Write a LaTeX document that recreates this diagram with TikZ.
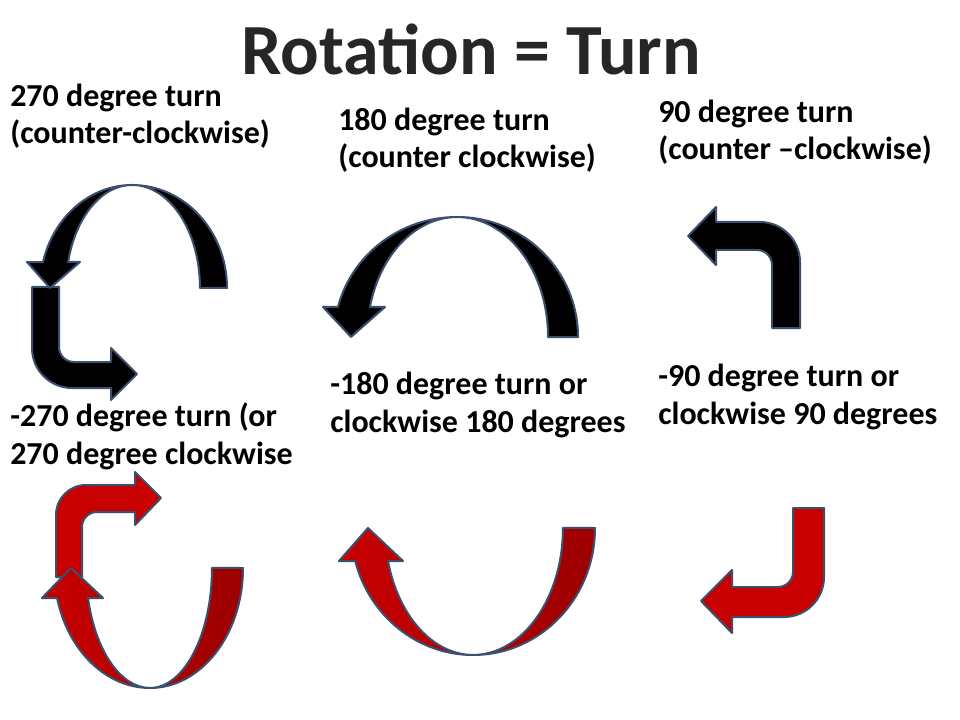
\documentclass[tikz,border=0pt]{standalone}
\usepackage{fontspec}
\setmainfont{Carlito}
\definecolor{edge}{HTML}{3B4F6E}
\definecolor{redA}{HTML}{C80000}
\definecolor{redB}{HTML}{9C0000}
\definecolor{titlegray}{HTML}{262626}
\newcommand{\outlinedtext}[1]{\special{pdf:content 2 Tr 1.4 w 0.78 G}#1\special{pdf:content 0 Tr}}
\begin{document}
\begin{tikzpicture}[x=0.75pt,y=-0.75pt,
  lbl/.style={anchor=base west,align=left,inner sep=0pt,font=\fontsize{24}{28}\selectfont\bfseries},
  blackarrow/.style={fill=black,draw=edge,line width=1.5pt,line join=round},
  redarrow/.style={fill=redA,draw=edge,line width=1.5pt,line join=round},
  redshade/.style={left color=redA,right color=redB,draw=edge,line width=1.5pt,line join=round}]
\useasboundingbox (0,0) rectangle (960,720);
\fill[white] (0,0) rectangle (960,720);

% title
\node[anchor=base,inner sep=0pt,text=titlegray,font=\fontsize{54}{58}\selectfont\bfseries] (title) at (471,75) {\outlinedtext{Rotation = Turn}};

% labels (anchored at the baseline of the last line)
\node[lbl] (l270) at (10,144) {270 degree turn\\(counter-clockwise)};
\node[lbl] (l180) at (338,168) {180 degree turn\\(counter clockwise)};
\node[lbl] (l90) at (658,160) {90 degree turn\\(counter –clockwise)};
\node[lbl] (m270) at (10,464) {-270 degree turn (or\\270 degree clockwise};
\node[lbl] (m180) at (330,432) {-180 degree turn or\\clockwise 180 degrees};
\node[lbl] (m90) at (658,424) {-90 degree turn or\\clockwise 90 degrees};

% black 270: L-shaped part
\draw[blackarrow] (32,287) -- (32,348) arc[start angle=180,end angle=90,radius=40]
  -- (111,388) -- (111,400) -- (137,374) -- (111,348) -- (111,362) -- (74,362)
  arc[start angle=90,end angle=180,radius=15] -- (59,287) -- cycle;
% black 270: arc part
\draw[blackarrow] (227,288) arc[start angle=0,end angle=-90,x radius=95,y radius=103]
  arc[start angle=270,end angle=194.6,x radius=92,y radius=103]
  -- (27,262) -- (50,288) -- (80,262) -- (68.1,262)
  arc[start angle=194.6,end angle=270,x radius=66,y radius=103]
  arc[start angle=-90,end angle=0,x radius=68,y radius=103] -- cycle;

% black 180
\draw[blackarrow] (578,337) arc[start angle=0,end angle=-90,x radius=121,y radius=120]
  arc[start angle=270,end angle=194.5,x radius=123,y radius=120]
  -- (323,307) -- (351,337) -- (385,307) -- (369.9,307)
  arc[start angle=194.5,end angle=270,x radius=90,y radius=120]
  arc[start angle=-90,end angle=0,x radius=91,y radius=120] -- cycle;

% black 90
\draw[blackarrow] (772,328) -- (772,265) arc[start angle=0,end angle=-90,radius=15]
  -- (716,250) -- (716,265) -- (688,236) -- (716,207) -- (716,222) -- (760,222)
  arc[start angle=-90,end angle=0,radius=40] -- (800,328) -- cycle;

% red 270: hook part
\draw[redarrow] (56,577) -- (56,515) arc[start angle=180,end angle=270,radius=30]
  -- (135,485) -- (135,472) -- (161,498) -- (135,525) -- (135,512) -- (97,512)
  arc[start angle=270,end angle=180,radius=15] -- (82,577) -- cycle;
% red 270: U part
\draw[redshade] (243,568) arc[start angle=0,end angle=90,x radius=93,y radius=120]
  arc[start angle=90,end angle=165.5,x radius=96,y radius=120]
  -- (42,598) -- (71,568) -- (103,598) -- (88,598)
  arc[start angle=165.5,end angle=90,x radius=64,y radius=120]
  arc[start angle=90,end angle=0,x radius=62,y radius=120] -- cycle;

% red 180
\draw[redshade] (595,528) arc[start angle=0,end angle=90,x radius=122,y radius=127]
  arc[start angle=90,end angle=164.9,x radius=122,y radius=127]
  -- (339,561) -- (368,528) -- (403,561) -- (388,561)
  arc[start angle=164.9,end angle=90,x radius=88,y radius=127]
  arc[start angle=90,end angle=0,x radius=90,y radius=127] -- cycle;

% red 90
\draw[redarrow] (793,508) -- (793,572) arc[start angle=0,end angle=90,radius=15]
  -- (732,587) -- (732,570) -- (701,601) -- (732,633) -- (732,617) -- (784,617)
  arc[start angle=90,end angle=0,radius=40] -- (824,577) -- (824,508) -- cycle;
\end{tikzpicture}
\end{document}
